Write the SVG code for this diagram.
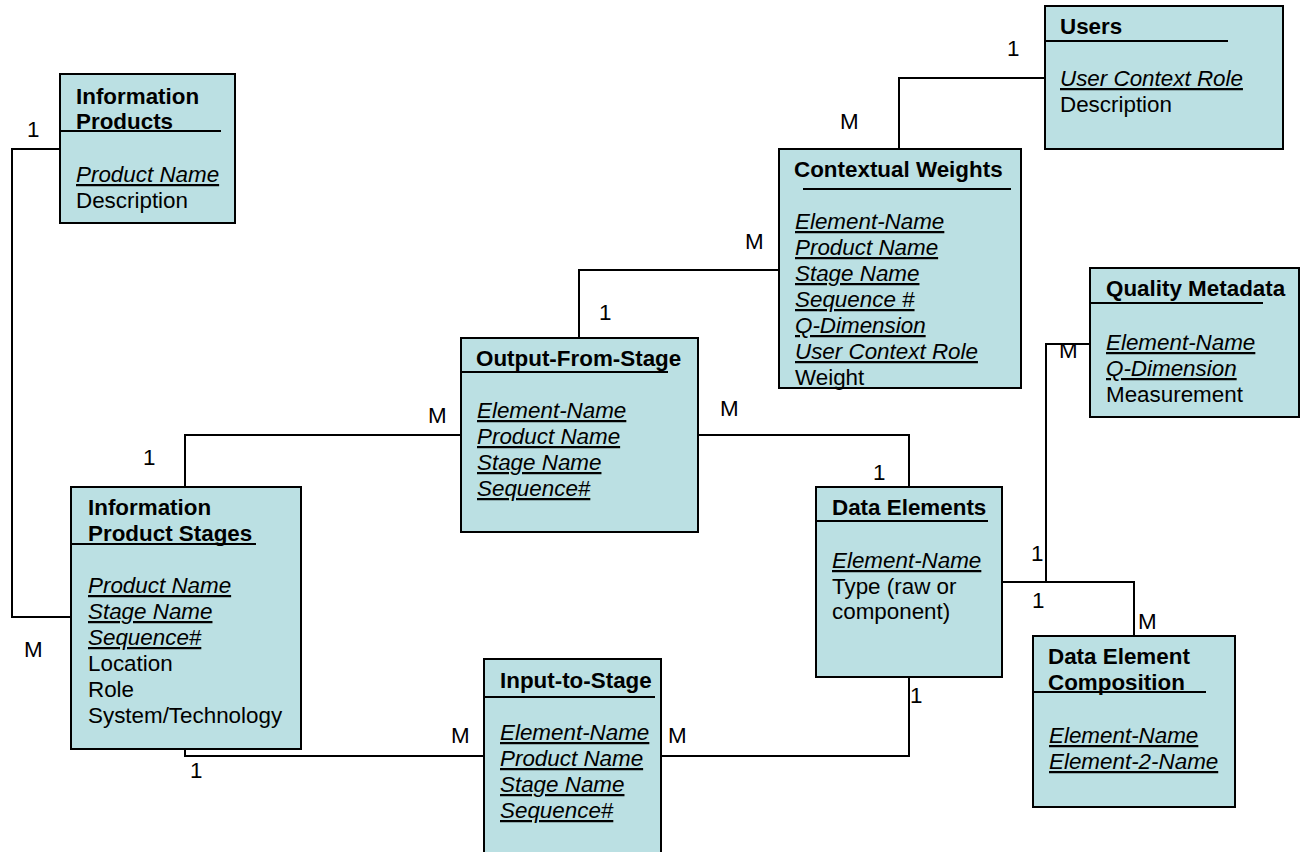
<svg xmlns="http://www.w3.org/2000/svg" width="1306" height="852" viewBox="0 0 1306 852">
<style>
.box{fill:#BBE0E3;stroke:#000;stroke-width:2}
.sep{stroke:#000;stroke-width:2;fill:none}
.conn path{stroke:#000;stroke-width:2;fill:none}
text{font-family:"Liberation Sans",Arial,sans-serif;font-size:22.4px;fill:#000}
.b{font-weight:bold}
.k{font-style:italic;text-decoration:underline}
</style>
<rect width="1306" height="852" fill="#fff"/>
<g id="connectors" class="conn">
<path d="M60,149 H12 V617 H71"/>
<path d="M185,487 V435 H461"/>
<path d="M185,749 V756 H484"/>
<path d="M579,338 V270 H779"/>
<path d="M899,149 V78 H1045"/>
<path d="M698,435 H909 V487"/>
<path d="M661,756 H909 V677"/>
<path d="M1002,582 H1134 V636"/>
<path d="M1090,344 H1046 V582"/>
</g>
<g id="labels">
<text x="27" y="137">1</text>
<text x="24" y="657">M</text>
<text x="143" y="465">1</text>
<text x="428" y="423">M</text>
<text x="190" y="778">1</text>
<text x="451" y="743">M</text>
<text x="668" y="743">M</text>
<text x="910" y="703">1</text>
<text x="720" y="416">M</text>
<text x="873" y="480">1</text>
<text x="599" y="320">1</text>
<text x="745" y="249">M</text>
<text x="840" y="129">M</text>
<text x="1007" y="56">1</text>
<text x="1059" y="358">M</text>
<text x="1031" y="561">1</text>
<text x="1032" y="608">1</text>
<text x="1138" y="629">M</text>
</g>
<g id="information-products">
<rect class="box" x="60" y="74" width="175" height="149"/>
<text class="b" x="76" y="104">Information</text>
<text class="b" x="76" y="129">Products</text>
<line class="sep" x1="60" y1="131" x2="221" y2="131"/>
<text class="k" x="76" y="182">Product Name</text>
<text x="76" y="208">Description</text>
</g>
<g id="users">
<rect class="box" x="1045" y="6" width="238" height="143"/>
<text class="b" x="1060" y="34">Users</text>
<line class="sep" x1="1045" y1="41" x2="1228" y2="41"/>
<text class="k" x="1060" y="86">User Context Role</text>
<text x="1060" y="112">Description</text>
</g>
<g id="contextual-weights">
<rect class="box" x="779" y="149" width="242" height="239"/>
<text class="b" x="794" y="177">Contextual Weights</text>
<line class="sep" x1="803" y1="189" x2="1011" y2="189"/>
<text class="k" x="795" y="229">Element-Name</text>
<text class="k" x="795" y="255">Product Name</text>
<text class="k" x="795" y="281">Stage Name</text>
<text class="k" x="795" y="307">Sequence #</text>
<text class="k" x="795" y="333">Q-Dimension</text>
<text class="k" x="795" y="359">User Context Role</text>
<text x="795" y="385">Weight</text>
</g>
<g id="quality-metadata">
<rect class="box" x="1090" y="268" width="209" height="149"/>
<text class="b" x="1106" y="296">Quality Metadata</text>
<line class="sep" x1="1090" y1="303" x2="1263" y2="303"/>
<text class="k" x="1106" y="350">Element-Name</text>
<text class="k" x="1106" y="376">Q-Dimension</text>
<text x="1106" y="402">Measurement</text>
</g>
<g id="output-from-stage">
<rect class="box" x="461" y="338" width="237" height="194"/>
<text class="b" x="476" y="366">Output-From-Stage</text>
<line class="sep" x1="461" y1="372" x2="668" y2="372"/>
<text class="k" x="477" y="418">Element-Name</text>
<text class="k" x="477" y="444">Product Name</text>
<text class="k" x="477" y="470">Stage Name</text>
<text class="k" x="477" y="496">Sequence#</text>
</g>
<g id="information-product-stages">
<rect class="box" x="71" y="487" width="230" height="262"/>
<text class="b" x="88" y="515">Information</text>
<text class="b" x="88" y="541">Product Stages</text>
<line class="sep" x1="71" y1="544" x2="256" y2="544"/>
<text class="k" x="88" y="593">Product Name</text>
<text class="k" x="88" y="619">Stage Name</text>
<text class="k" x="88" y="645">Sequence#</text>
<text x="88" y="671">Location</text>
<text x="88" y="697">Role</text>
<text x="88" y="723">System/Technology</text>
</g>
<g id="data-elements">
<rect class="box" x="816" y="487" width="186" height="190"/>
<text class="b" x="832" y="515">Data Elements</text>
<line class="sep" x1="816" y1="521" x2="988" y2="521"/>
<text class="k" x="832" y="568">Element-Name</text>
<text x="832" y="594">Type (raw or</text>
<text x="832" y="619">component)</text>
</g>
<g id="input-to-stage">
<rect class="box" x="484" y="659" width="177" height="205"/>
<text class="b" x="500" y="688">Input-to-Stage</text>
<line class="sep" x1="484" y1="697" x2="655" y2="697"/>
<text class="k" x="500" y="740">Element-Name</text>
<text class="k" x="500" y="766">Product Name</text>
<text class="k" x="500" y="792">Stage Name</text>
<text class="k" x="500" y="818">Sequence#</text>
</g>
<g id="data-element-composition">
<rect class="box" x="1033" y="636" width="202" height="171"/>
<text class="b" x="1048" y="664">Data Element</text>
<text class="b" x="1048" y="690">Composition</text>
<line class="sep" x1="1033" y1="692" x2="1206" y2="692"/>
<text class="k" x="1049" y="743">Element-Name</text>
<text class="k" x="1049" y="769">Element-2-Name</text>
</g>
</svg>
